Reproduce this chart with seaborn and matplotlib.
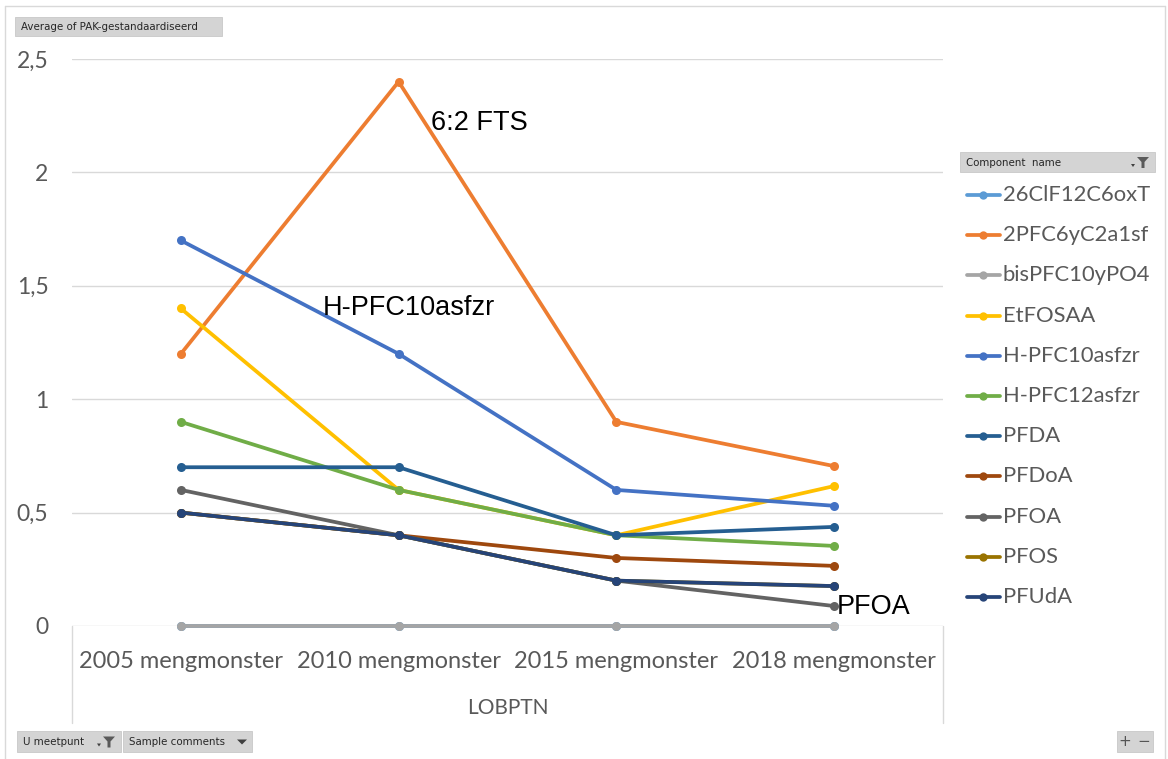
import numpy as np
import pandas as pd
import matplotlib
matplotlib.use("Agg")
import matplotlib.pyplot as plt
import seaborn as sns
from matplotlib.lines import Line2D
from matplotlib.patches import Rectangle, Polygon

# ---------------- data ----------------
categories = ["2005 mengmonster", "2010 mengmonster", "2015 mengmonster", "2018 mengmonster"]
components = ["26ClF12C6oxT", "2PFC6yC2a1sf", "bisPFC10yPO4", "EtFOSAA", "H-PFC10asfzr",
              "H-PFC12asfzr", "PFDA", "PFDoA", "PFOA", "PFOS", "PFUdA"]
v_26ClF12C6oxT = [0.0, 0.0, 0.0, 0.0]
v_2PFC6yC2a1sf = [1.2, 2.4, 0.9, 0.705]
v_bisPFC10yPO4 = [0.0, 0.0, 0.0, 0.0]
v_EtFOSAA = [1.4, 0.6, 0.4, 0.617]
v_H_PFC10asfzr = [1.7, 1.2, 0.6, 0.53]
v_H_PFC12asfzr = [0.9, 0.6, 0.4, 0.353]
v_PFDA = [0.7, 0.7, 0.4, 0.437]
v_PFDoA = [0.5, 0.4, 0.3, 0.265]
v_PFOA = [0.6, 0.4, 0.2, 0.088]
v_PFOS = [0.5, 0.4, 0.2, 0.176]
v_PFUdA = [0.5, 0.4, 0.2, 0.176]
series_values = [v_26ClF12C6oxT, v_2PFC6yC2a1sf, v_bisPFC10yPO4, v_EtFOSAA, v_H_PFC10asfzr,
                 v_H_PFC12asfzr, v_PFDA, v_PFDoA, v_PFOA, v_PFOS, v_PFUdA]
colors = ["#5B9BD5", "#ED7D31", "#A5A5A5", "#FFC000", "#4472C4", "#70AD47",
          "#255E91", "#9E480E", "#636363", "#997300", "#264478"]
y_ticks = [0, 0.5, 1, 1.5, 2, 2.5]
y_tick_labels = ["0", "0,5", "1", "1,5", "2", "2,5"]
annotations = [("6:2 FTS", 1.147, 2.187), ("H-PFC10asfzr", 0.651, 1.371), ("PFOA", 3.014, 0.053)]

rows = []
for comp, vals in zip(components, series_values):
    for cat, v in zip(categories, vals):
        rows.append({"LOBPTN": cat, "Component name": comp, "value": v})
df = pd.DataFrame(rows)

# ---------------- figure ----------------
W, H = 1168, 759
sns.set_theme(style="white")
plt.rcParams["font.family"] = ["Lato", "DejaVu Sans"]
fig = plt.figure(figsize=(W / 100, H / 100), dpi=100)

def fx(x):
    return x / W

def fy(y):
    return 1 - y / H

ax = fig.add_axes([fx(72), fy(626), (943 - 72) / W, (626 - 59) / H])
sns.lineplot(data=df, x="LOBPTN", y="value", hue="Component name", hue_order=components,
             palette=colors, marker="o", markersize=6.5, markeredgewidth=0, linewidth=2.7,
             sort=False, legend=False, ax=ax, zorder=3)
for ln in ax.lines:
    ln.set_clip_on(False)

ax.set_xlim(-0.5, 3.5)
ax.set_ylim(0, 2.5)
ax.set_yticks(y_ticks)
ax.set_yticklabels(y_tick_labels)
ax.set_xticks(range(len(categories)))
ax.set_xticklabels(categories)
ax.tick_params(axis="y", length=0, pad=17, labelsize=16.5, labelcolor="#595959")
ax.tick_params(axis="x", length=0, pad=18, labelsize=17, labelcolor="#595959")
ax.yaxis.grid(True, color="#D9D9D9", linewidth=1)
ax.set_axisbelow(True)
for s in ax.spines.values():
    s.set_visible(False)
ax.set_ylabel("")
ax.set_xlabel("LOBPTN", fontsize=15, color="#595959")
ax.xaxis.set_label_coords(0.5, -(708 - 626) / (626 - 59))
ax.xaxis.label.set_va("center")

for txt, xv, yv in annotations:
    ax.text(xv, yv, txt, fontsize=19.5, family="Liberation Sans", color="black",
            ha="left", va="baseline", zorder=5)

# ---------------- frame / category box ----------------
border = "#D9D9D9"
fig.add_artist(Line2D([fx(5), fx(1165)], [fy(6), fy(6)], color=border, lw=1))
fig.add_artist(Line2D([fx(5), fx(5)], [fy(6), fy(762)], color=border, lw=1))
fig.add_artist(Line2D([fx(1165), fx(1165)], [fy(6), fy(762)], color=border, lw=1))
fig.add_artist(Line2D([fx(72), fx(72)], [fy(626), fy(723)], color=border, lw=1))
fig.add_artist(Line2D([fx(943), fx(943)], [fy(626), fy(723)], color=border, lw=1))

# ---------------- legend ----------------
for i, (comp, col) in enumerate(zip(components, colors)):
    yy = 195 + 40.2 * i
    fig.add_artist(Line2D([fx(967), fx(1000)], [fy(yy), fy(yy)], color=col, lw=2.7))
    fig.add_artist(Line2D([fx(983)], [fy(yy)], color=col, marker="o", markersize=6, markeredgewidth=0))
    fig.text(fx(1003), fy(yy), comp, fontsize=15.8, color="#595959", ha="left", va="center")

# ---------------- pivot buttons ----------------
def button(x0, y0, x1, y1, label, icon=None):
    fig.add_artist(Rectangle((fx(x0), fy(y1)), fx(x1) - fx(x0), fy(y0) - fy(y1),
                             facecolor="#D4D4D4", edgecolor="#C8C8C8", lw=0.6))
    if label:
        fig.text(fx(x0 + 6), fy((y0 + y1) / 2 + 0.5), label, fontsize=7.4, family="DejaVu Sans",
                 color="#262626", ha="left", va="center")
    cy = (y0 + y1) / 2
    if icon == "filter":
        xr = x1 - 6
        fig.add_artist(Polygon([(fx(xr - 12), fy(cy - 5)), (fx(xr), fy(cy - 5)), (fx(xr - 4.5), fy(cy)),
                                (fx(xr - 4.5), fy(cy + 6)), (fx(xr - 7.5), fy(cy + 6)), (fx(xr - 7.5), fy(cy))],
                               closed=True, facecolor="#5A5A5A", edgecolor="none"))
        fig.add_artist(Polygon([(fx(xr - 18), fy(cy + 2)), (fx(xr - 14), fy(cy + 2)), (fx(xr - 16), fy(cy + 5))],
                               closed=True, facecolor="#404040", edgecolor="none"))
    elif icon == "drop":
        xr = x1 - 10
        fig.add_artist(Polygon([(fx(xr - 5), fy(cy - 2)), (fx(xr + 5), fy(cy - 2)), (fx(xr), fy(cy + 3))],
                               closed=True, facecolor="#404040", edgecolor="none"))

button(15, 17, 222, 36, "Average of PAK-gestandaardiseerd")
button(960, 152, 1155, 172, "Component  name", icon="filter")
button(17, 731, 121, 752, "U meetpunt", icon="filter")
button(123, 731, 252, 752, "Sample comments", icon="drop")
button(1117, 731, 1153, 752, None)
fig.text(fx(1125), fy(742), "+", fontsize=11, color="#555555", ha="center", va="center", family="DejaVu Sans")
fig.text(fx(1144), fy(742), "\u2212", fontsize=11, color="#555555", ha="center", va="center", family="DejaVu Sans")

fig.savefig("out.png", dpi=100, facecolor="white")
